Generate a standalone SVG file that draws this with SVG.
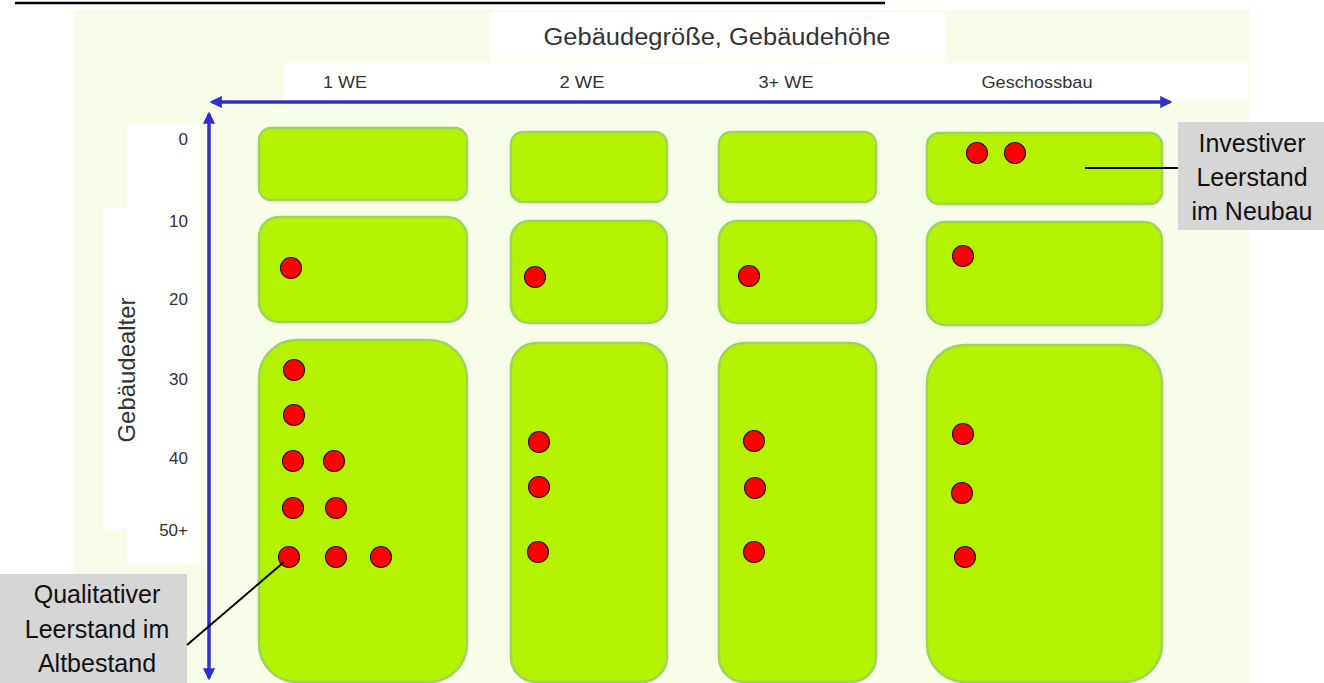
<svg xmlns="http://www.w3.org/2000/svg" width="1324" height="683" viewBox="0 0 1324 683">
<style>
.bg{fill:#f8fde9}
.wb{fill:#ffffff}
.box{fill:#b3f300;stroke:#9ad55c;stroke-width:2.5}
.dot{fill:#ff0000;stroke:#2a1208;stroke-width:1.2}
.ax{stroke:#3030c8;stroke-width:3.5;fill:none}
.t{font-family:"Liberation Sans",Arial,sans-serif;fill:#333333}
.lab{font-family:"Liberation Sans",Arial,sans-serif;fill:#111111;font-size:25px;text-anchor:middle}
.gb{fill:#d6d6d6}
.lead{stroke:#000;stroke-width:2}
</style>
<defs>
<marker id="ah" viewBox="0 0 10 10" refX="8" refY="5" markerWidth="3.5" markerHeight="3.5" orient="auto-start-reverse">
<path d="M0,0 L10,5 L0,10 z" fill="#3030c8"/>
</marker>
</defs>
<rect x="0" y="0" width="1324" height="683" fill="#ffffff"/>
<line x1="15" y1="3" x2="885" y2="3" stroke="#000" stroke-width="2.5"/>
<rect class="bg" x="73" y="10" width="1177" height="673"/>
<g id="header">
<rect class="wb" x="490" y="12" width="455" height="50"/>
<text class="t" x="717" y="45" font-size="23" text-anchor="middle" textLength="347" lengthAdjust="spacingAndGlyphs">Gebäudegröße, Gebäudehöhe</text>
<rect class="wb" x="283" y="63" width="965" height="38"/>
<text class="t" x="345" y="88" font-size="17" text-anchor="middle" textLength="44" lengthAdjust="spacingAndGlyphs">1 WE</text>
<text class="t" x="582" y="88" font-size="17" text-anchor="middle" textLength="45" lengthAdjust="spacingAndGlyphs">2 WE</text>
<text class="t" x="786" y="88" font-size="17" text-anchor="middle" textLength="55" lengthAdjust="spacingAndGlyphs">3+ WE</text>
<text class="t" x="1037" y="88" font-size="17" text-anchor="middle" textLength="111" lengthAdjust="spacingAndGlyphs">Geschossbau</text>
</g>
<g id="yaxis-labels">
<rect class="wb" x="127" y="124" width="73" height="440"/>
<rect class="wb" x="103" y="208" width="30" height="321"/>
<text class="t" x="188" y="145" font-size="17" text-anchor="end">0</text>
<text class="t" x="188" y="227" font-size="17" text-anchor="end">10</text>
<text class="t" x="188" y="305" font-size="17" text-anchor="end">20</text>
<text class="t" x="188" y="385" font-size="17" text-anchor="end">30</text>
<text class="t" x="188" y="464" font-size="17" text-anchor="end">40</text>
<text class="t" x="188" y="536" font-size="17" text-anchor="end">50+</text>
<text class="t" x="0" y="0" font-size="24" text-anchor="middle" textLength="145" lengthAdjust="spacingAndGlyphs" transform="translate(135,370) rotate(-90)">Gebäudealter</text>
</g>
<g id="col1">
<rect class="box" x="259" y="128" width="208" height="72" rx="12"/>
<rect class="box" x="259" y="217" width="208" height="105" rx="20"/>
<rect class="box" x="259" y="340" width="208" height="342" rx="38"/>
<circle class="dot" cx="291" cy="268" r="10.5"/>
<circle class="dot" cx="294" cy="370" r="10.5"/>
<circle class="dot" cx="294" cy="415" r="10.5"/>
<circle class="dot" cx="293" cy="461" r="10.5"/>
<circle class="dot" cx="334" cy="461" r="10.5"/>
<circle class="dot" cx="293" cy="508" r="10.5"/>
<circle class="dot" cx="336" cy="508" r="10.5"/>
<circle class="dot" cx="289" cy="557" r="10.5"/>
<circle class="dot" cx="336" cy="557" r="10.5"/>
<circle class="dot" cx="381" cy="557" r="10.5"/>
</g>
<g id="col2">
<rect class="box" x="511" y="132" width="156" height="70" rx="12"/>
<rect class="box" x="511" y="221" width="156" height="102" rx="18"/>
<rect class="box" x="511" y="343" width="156" height="339" rx="25"/>
<circle class="dot" cx="535" cy="277" r="10.5"/>
<circle class="dot" cx="539" cy="442" r="10.5"/>
<circle class="dot" cx="539" cy="487" r="10.5"/>
<circle class="dot" cx="538" cy="552" r="10.5"/>
</g>
<g id="col3">
<rect class="box" x="719" y="132" width="157" height="70" rx="12"/>
<rect class="box" x="719" y="221" width="157" height="102" rx="18"/>
<rect class="box" x="719" y="343" width="157" height="339" rx="25"/>
<circle class="dot" cx="749" cy="276" r="10.5"/>
<circle class="dot" cx="754" cy="441" r="10.5"/>
<circle class="dot" cx="755" cy="488" r="10.5"/>
<circle class="dot" cx="754" cy="552" r="10.5"/>
</g>
<g id="col4">
<rect class="box" x="927" y="133" width="235" height="71" rx="12"/>
<rect class="box" x="927" y="222" width="235" height="103" rx="18"/>
<rect class="box" x="927" y="345" width="235" height="337" rx="38"/>
<circle class="dot" cx="977" cy="153" r="10.5"/>
<circle class="dot" cx="1015" cy="153" r="10.5"/>
<circle class="dot" cx="963" cy="256" r="10.5"/>
<circle class="dot" cx="963" cy="434" r="10.5"/>
<circle class="dot" cx="962" cy="493" r="10.5"/>
<circle class="dot" cx="965" cy="557" r="10.5"/>
</g>
<g id="label-neubau">
<rect class="gb" x="1178" y="122" width="146" height="108"/>
<text class="lab" x="1252" y="152">Investiver</text>
<text class="lab" x="1252" y="186">Leerstand</text>
<text class="lab" x="1252" y="220">im Neubau</text>
</g>
<g id="label-altbestand">
<rect class="gb" x="0" y="574" width="187" height="109"/>
<text class="lab" x="97" y="603">Qualitativer</text>
<text class="lab" x="97" y="638">Leerstand im</text>
<text class="lab" x="97" y="672">Altbestand</text>
</g>
<g id="connectors">
<line class="ax" x1="1170" y1="102" x2="212" y2="102" marker-start="url(#ah)" marker-end="url(#ah)"/>
<line class="ax" x1="209" y1="114" x2="209" y2="678" marker-start="url(#ah)" marker-end="url(#ah)"/>
<line class="lead" x1="1085" y1="168" x2="1178" y2="168"/>
<line class="lead" x1="187" y1="645" x2="284" y2="562"/>
</g>
</svg>
